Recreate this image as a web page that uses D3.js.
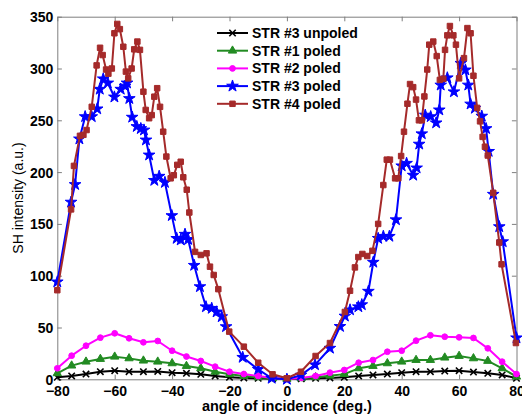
<!DOCTYPE html>
<html>
<head>
<meta charset="utf-8">
<script src="https://cdn.jsdelivr.net/npm/d3@7/dist/d3.min.js"></script>
<style>
  html, body { margin: 0; padding: 0; background: #fff; }
  svg { display: block; font-family: "Liberation Sans", Arial, Helvetica, sans-serif; }
</style>
</head>
<body>
<svg id="chart" width="522" height="414"></svg>
<script>
// Angle grid (deg) for the coarse scans, 5 degree steps
const coarseAngles = [-80,-75,-70,-65,-60,-55,-50,-45,-40,-35,-30,-25,-20,-15,-10,-5,0,5,10,15,20,25,30,35,40,45,50,55,60,65,70,75,80];

// STR #3 unpoled
const str3UnpoledValues = [1.9,3.2,5.1,7.3,8.3,7.3,7.3,7.6,6.4,5.8,4.8,3.2,1.9,1.3,1.0,0.5,0.3,0.5,1.0,1.3,1.9,3.2,4.2,5.1,6.4,7.3,7.3,8.0,8.3,7.0,5.8,4.2,1.0];
// STR #1 poled
const str1PoledValues = [5.8,13.2,17.0,19.6,21.8,20.2,18.0,17.0,15.4,12.8,10.6,7.3,4.8,3.2,1.9,1.0,0.5,1.0,2.0,3.5,5.0,10.6,12.8,15.4,17.0,18.6,18.6,20.9,22.5,20.2,17.7,10.6,2.5];
// STR #2 poled
const str2PoledValues = [10.6,22.8,32.4,40.2,44.4,39.6,35.7,37.0,27.6,22.0,17.7,12.2,7.3,5.1,3.2,1.3,0.3,1.3,3.2,6.4,9.0,16.0,18.6,26.6,27.6,37.3,42.5,41.1,40.5,39.9,29.9,17.0,5.1];

// STR #3 poled, fine scan
const str3PoledAngles = [-80,-75.2,-73.8,-72.3,-70.3,-68.0,-66.1,-65.2,-64.0,-62.4,-60.1,-57.9,-56.4,-55.7,-54.9,-53.9,-52.3,-50.9,-49.8,-49.1,-48.0,-46.2,-44.5,-42.5,-40.1,-38.4,-37.0,-35.5,-34.4,-32.3,-30.3,-28.2,-26.2,-24.5,-22.7,-21.2,-15.4,-10.0,-5.3,0,4.9,9.8,15.0,18.5,20.2,22.0,24.9,26.1,28.4,30.1,31.8,33.6,35.7,38.0,40.0,41.7,44.0,45.2,46.1,47.0,48.2,50.1,52.0,53.1,53.6,55.9,58.2,60.6,62.2,63.2,64.0,65.5,67.9,69.4,70.3,71.9,74.0,75.2,80];
const str3PoledValues = [94,171,188,232,253.5,253.5,261,280,290,286,272.5,280,283,286,271,253,244,242,240.6,231,216.5,192,196,190,158,136,134.5,140,135,110,89.4,70,68.5,65,60.4,50.8,21.2,9.6,1,0,4,14,30,51,61,67,70,72,85,113,136,138,138,154,206,208.5,197,204,227,237,255,253.5,247.5,260,284,291,277.5,305,298.6,284,265.7,261.6,254,242,220,178.6,147.3,132.8,40];

// STR #4 poled, fine scan
const str4PoledAngles = [-80,-75.2,-74.2,-72.1,-70.9,-69.8,-68.0,-66.3,-65.1,-64.2,-63.0,-62.2,-61.0,-60.1,-59.1,-58.2,-57.0,-56.1,-55.3,-54.1,-53.2,-52.1,-51.2,-50.0,-49.2,-48.0,-47.1,-46.2,-45.2,-44.2,-43.1,-42.0,-40.5,-39.4,-38.2,-37.0,-36.1,-34.9,-34.0,-32.0,-30.0,-28.0,-26.8,-25.5,-23.9,-20.1,-15.0,-10.0,-5.0,0,4.9,10.0,15.0,20.2,22.0,23.7,24.9,26.3,28.0,29.8,31.8,33.6,34.8,35.9,37.7,38.8,39.8,40.8,42.0,42.9,44.0,45.0,46.0,47.0,47.9,48.9,49.6,51.0,52.2,53.3,54.5,55.1,55.9,56.8,58.0,58.9,60.0,61.7,62.9,64.0,65.0,66.3,67.3,68.2,69.0,70.0,71.9,74.0,74.8,79.8];
const str4PoledValues = [86,164,206,235,236,240.6,263,303,320,313,299,295,300,334,343,338,321,297,290.5,300,318.5,326,318,277.6,260,252,255,272.8,281,263,239,215,194,197,207,210,195,183,161,123,120,121.6,108.7,100.7,87,46,31.5,16,4.8,1,7.3,22.5,35,65,85.5,108,118,121,119,124,150,187.5,212,212,194,194,215.5,239,266,285,282,270,250,250,273,299,323,326,312,289,290,318,332,341,332,323,290.5,310,339,334,293,262,249,234,224.5,216,180,132,111,35];

const xTicks = [-80,-60,-40,-20,0,20,40,60,80];
const yTicks = [0,50,100,150,200,250,300,350];

const xLabel = "angle of incidence (deg.)";
const yLabel = "SH intensity (a.u.)";

const series = [
  { name: "STR #3 unpoled", color: "#000000", marker: "x",        x: coarseAngles,    y: str3UnpoledValues },
  { name: "STR #1 poled",   color: "#228b22", marker: "triangle", x: coarseAngles,    y: str1PoledValues },
  { name: "STR #2 poled",   color: "#ff00ff", marker: "circle",   x: coarseAngles,    y: str2PoledValues },
  { name: "STR #3 poled",   color: "#0000ff", marker: "star",     x: str3PoledAngles, y: str3PoledValues },
  { name: "STR #4 poled",   color: "#a52a2a", marker: "square",   x: str4PoledAngles, y: str4PoledValues }
];

const svg = d3.select("#chart");
const plotLeft = 57.3, plotRight = 516.5, plotTop = 16.7, plotBottom = 379.3;

const x = d3.scaleLinear().domain([-80, 80]).range([plotLeft, plotRight]);
const y = d3.scaleLinear().domain([0, 350]).range([plotBottom, plotTop]);

const axisColor = "#7f7f7f";
const tickLen = 4.6;
const fmt = d => d < 0 ? "\u2212" + Math.abs(d) : String(d);

// axes with inward ticks on all four sides
const axBottom = svg.append("g").attr("transform", `translate(0,${plotBottom})`)
  .call(d3.axisBottom(x).tickValues(xTicks).tickSizeInner(-tickLen).tickSizeOuter(0).tickPadding(7).tickFormat(fmt));
const axTop = svg.append("g").attr("transform", `translate(0,${plotTop})`)
  .call(d3.axisTop(x).tickValues(xTicks).tickSizeInner(-tickLen).tickSizeOuter(0).tickFormat(""));
const axLeft = svg.append("g").attr("transform", `translate(${plotLeft},0)`)
  .call(d3.axisLeft(y).tickValues(yTicks).tickSizeInner(-tickLen).tickSizeOuter(0).tickPadding(4).tickFormat(fmt));
const axRight = svg.append("g").attr("transform", `translate(${plotRight},0)`)
  .call(d3.axisRight(y).tickValues(yTicks).tickSizeInner(-tickLen).tickSizeOuter(0).tickFormat(""));

[axBottom, axTop, axLeft, axRight].forEach(g => {
  g.select(".domain").attr("stroke", axisColor).attr("stroke-width", 1);
  g.selectAll(".tick line").attr("stroke", axisColor).attr("stroke-width", 1);
  g.selectAll(".tick text").attr("fill", "#000").attr("font-size", 14).attr("font-weight", "bold")
    .attr("font-family", "'Liberation Sans', Arial, sans-serif");
});
axLeft.selectAll(".tick text").attr("dy", "0.36em");

// axis titles
svg.append("text")
  .attr("x", (plotLeft + plotRight) / 2).attr("y", 410.5)
  .attr("text-anchor", "middle").attr("font-size", 14.5).attr("font-weight", "bold")
  .text(xLabel);
svg.append("text")
  .attr("transform", `translate(23,${(plotTop + plotBottom) / 2}) rotate(-90)`)
  .attr("text-anchor", "middle").attr("font-size", 14)
  .text(yLabel);

// marker drawing
function drawMarker(g, type, color) {
  if (type === "x") {
    const s = 3.2;
    g.append("path").attr("d", `M${-s},${-s}L${s},${s}M${-s},${s}L${s},${-s}`)
      .attr("stroke", color).attr("stroke-width", 1.6).attr("fill", "none");
  } else if (type === "triangle") {
    g.append("path").attr("d", d3.symbol(d3.symbolTriangle, 30)())
      .attr("fill", color).attr("stroke", color).attr("stroke-width", 1);
  } else if (type === "circle") {
    g.append("path").attr("d", d3.symbol(d3.symbolCircle, 26)())
      .attr("fill", color).attr("stroke", color).attr("stroke-width", 1);
  } else if (type === "star") {
    g.append("path").attr("d", d3.symbol(d3.symbolStar, 42)())
      .attr("fill", color).attr("stroke", color).attr("stroke-width", 1);
  } else if (type === "square") {
    g.append("path").attr("d", d3.symbol(d3.symbolSquare, 30)())
      .attr("fill", color).attr("stroke", color).attr("stroke-width", 1);
  }
}

const line = d3.line().x(d => x(d[0])).y(d => y(d[1]));

series.forEach(s => {
  const pts = s.x.map((a, i) => [a, s.y[i]]);
  const g = svg.append("g");
  g.append("path").datum(pts).attr("d", line)
    .attr("fill", "none").attr("stroke", s.color).attr("stroke-width", 2).attr("stroke-linejoin", "round");
  g.selectAll("g.m").data(pts).join("g").attr("class", "m")
    .attr("transform", d => `translate(${x(d[0])},${y(d[1])})`)
    .each(function () { drawMarker(d3.select(this), s.marker, s.color); });
});

// legend
const legend = svg.append("g").attr("transform", "translate(217,33)");
series.forEach((s, i) => {
  const row = legend.append("g").attr("transform", `translate(0,${i * 17.7})`);
  row.append("line").attr("x1", 0).attr("x2", 31).attr("y1", 0).attr("y2", 0)
    .attr("stroke", s.color).attr("stroke-width", 2);
  drawMarker(row.append("g").attr("transform", "translate(15.5,0)"), s.marker, s.color);
  row.append("text").attr("x", 35).attr("y", 0).attr("dy", "0.36em")
    .attr("font-size", 14).attr("font-weight", "bold").text(s.name);
});
</script>
</body>
</html>
